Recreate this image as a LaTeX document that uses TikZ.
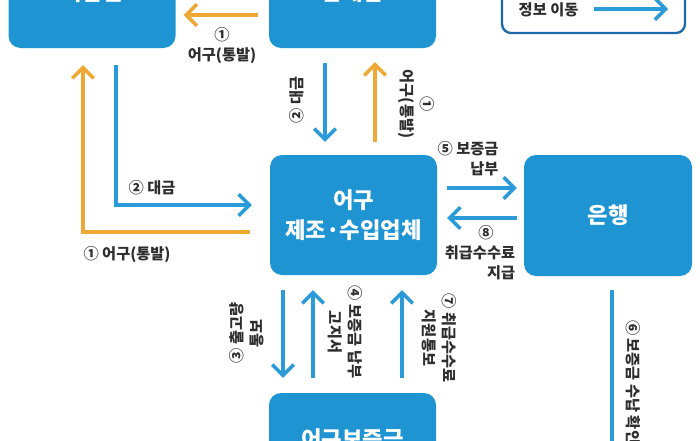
\documentclass[tikz,border=0pt]{standalone}
\usepackage{fontspec}
\setmainfont{Noto Sans CJK KR}
\usepackage{xcolor}
\usepackage{tikz}
\usetikzlibrary{arrows.meta,positioning}
\definecolor{boxblue}{HTML}{1E94D2}
\definecolor{flowblue}{HTML}{2A9AD8}
\definecolor{gearorg}{HTML}{F0A834}
\definecolor{legline}{HTML}{1C6BA8}
\definecolor{txtgray}{HTML}{2E2E2E}
\def\pw{0.03cm}
\tikzset{
  box/.style={fill=boxblue,rounded corners=12*\pw,minimum width=167*\pw,text=white,align=center,inner sep=0pt,font=\bfseries\fontsize{19}{26}\selectfont},
  info/.style={-{Straight Barb[length=3.2mm,width=6.4mm]},line width=3pt,flowblue},
  gear/.style={info,gearorg},
  lbl/.style={font=\bfseries\fontsize{13}{17}\selectfont,text=txtgray,align=center,inner sep=0pt}
}
\begin{document}
\begin{tikzpicture}[x=\pw,y=-\pw]
\useasboundingbox (0,0) rectangle (700,440);
% boxes
\node[box,minimum height=112*\pw] (fisher) at (92,-8) {어업인};
\node[box,minimum height=112*\pw] (dealer) at (352.5,-8) {판매점};
\node[box,minimum height=120*\pw] (maker) at (353.5,215) {어구\\제조·수입업체};
\node[box,minimum height=121*\pw,minimum width=168*\pw] (bank) at (608,215.5) {은행};
\node[box,minimum height=92*\pw] (fund) at (352.5,439) {어구보증금};
% legend
\node[draw=legline,line width=2pt,rounded corners=9*\pw,minimum width=183*\pw,minimum height=73*\pw,inner sep=0pt] (legend) at (593.5,-3.5) {};
\node[lbl] (infokey) at (548.5,10) {정보 이동};
\coordinate (keyend) at (668,9);
\draw[info] ([xshift=15*\pw]infokey.east |- keyend) -- (keyend);
% top row
\draw[gear] ([shift={(-11,23)}]dealer.west) -- ([shift={(8,23)}]fisher.east);
\node[lbl] (l1a) at (222,46) {①\\어구(통발)};
\draw[info] ([shift={(24,17)}]fisher.south) |- ([shift={(-18,-10)}]maker.west);
\node[lbl] (l2a) at (152,188) {② 대금};
\draw[gear] ([shift={(-20,17)}]maker.west) -| ([shift={(-9,17)}]fisher.south);
\node[lbl] (l1b) at (127,255) {① 어구(통발)};
\draw[info] ([shift={(-27.5,15)}]dealer.south) -- ([shift={(-28.5,-13)}]maker.north);
\node[lbl,rotate=90] (l2b) at (297,100) {② 대금};
\draw[gear] ([shift={(21.5,-13)}]maker.north) -- ([shift={(22.5,14)}]dealer.south);
\node[lbl,rotate=-90] (l1c) at (416,104) {①\\어구(통발)};
% bank
\draw[info] ([shift={(10,-27)}]maker.east) -- ([shift={(-7,-27.5)}]bank.west);
\node[lbl,align=right] (l5) at (468,159) {⑤ 보증금\\납부};
\draw[info] ([shift={(-7,2.5)}]bank.west) -- ([shift={(10,3)}]maker.east);
\node[lbl,align=right] (l8) at (480,253) {⑧\hspace*{1.4em}\\취급수수료\\지급};
% fund
\draw[info] ([shift={(-70.5,15)}]maker.south) -- ([shift={(-69.5,-15)}]fund.north);
\node[lbl,rotate=90] (l3) at (247,333) {③ 출고량\\통보};
\draw[info] ([shift={(-39.5,-15)}]fund.north) -- ([shift={(-40.5,15)}]maker.south);
\node[lbl,rotate=-90] (l4) at (345,332) {④ 보증금 납부\\고지서};
\draw[info] ([shift={(49.5,-15)}]fund.north) -- ([shift={(48.5,15)}]maker.south);
\node[lbl,rotate=-90] (l7) at (439,338) {⑦ 취급수수료\\지원통보};
\coordinate (belowbank) at (612,460);
\draw[line width=3pt,flowblue] ([shift={(4,14)}]bank.south) -- (belowbank);
\node[lbl,rotate=-90,anchor=west] (l6) at (633,320) {⑥ 보증금 수납 확인};
\end{tikzpicture}
\end{document}
